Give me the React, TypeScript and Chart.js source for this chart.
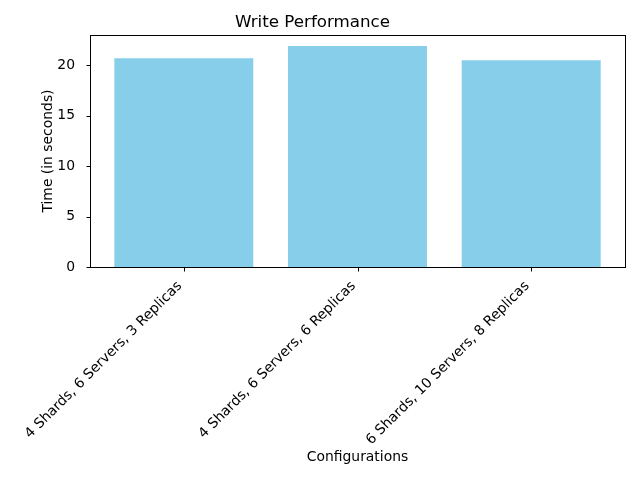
import React, { useEffect, useRef } from "react";
import { Chart, registerables } from "chart.js";

Chart.register(...registerables);

const categories = [
  "4 Shards, 6 Servers, 3 Replicas",
  "4 Shards, 6 Servers, 6 Replicas",
  "6 Shards, 10 Servers, 8 Replicas",
];
const writeTimes = [20.7, 21.9, 20.5];
const yTicks = [0, 5, 10, 15, 20];

const FONT = "'DejaVu Sans', sans-serif";

const framePlugin = {
  id: "frame",
  afterDraw(chart: any) {
    const { ctx, chartArea } = chart;
    const L = Math.round(chartArea.left) + 0.5;
    const T = Math.round(chartArea.top) + 0.5;
    const R = Math.round(chartArea.right) + 0.5;
    const B = Math.round(chartArea.bottom) + 0.5;
    ctx.save();
    ctx.strokeStyle = "#000";
    ctx.lineWidth = 1;
    ctx.strokeRect(L, T, R - L, B - T);
    ctx.beginPath();
    const ys = chart.scales.y;
    yTicks.forEach((v) => {
      const py = Math.round(ys.getPixelForValue(v)) + 0.5;
      ctx.moveTo(L, py);
      ctx.lineTo(L - 4, py);
    });
    const xs = chart.scales.x;
    categories.forEach((_, i) => {
      const px = Math.round(xs.getPixelForValue(i)) + 0.5;
      ctx.moveTo(px, B);
      ctx.lineTo(px, B + 4);
    });
    ctx.stroke();
    ctx.restore();
  },
};

export default function App() {
  const ref = useRef<HTMLCanvasElement | null>(null);

  useEffect(() => {
    document.body.style.margin = "0";
    const n = categories.length;
    const lo = -0.4;
    const hi = n - 1 + 0.4;
    const span = hi - lo;
    const xMin = lo - 0.05 * span;
    const xMax = hi + 0.05 * span;
    const yMax = Math.max(...writeTimes) * 1.05;

    const chart = new Chart(ref.current as HTMLCanvasElement, {
      type: "bar",
      data: {
        datasets: [
          {
            data: writeTimes.map((v, i) => ({ x: i, y: v })),
            backgroundColor: "#87CEEB",
            borderWidth: 0,
            barPercentage: 0.8,
            categoryPercentage: 1.0,
          },
        ],
      },
      options: {
        animation: false,
        responsive: false,
        layout: { padding: { left: 0, right: 15, top: 0, bottom: 0 } },
        plugins: {
          legend: { display: false },
          tooltip: { enabled: false },
          title: {
            display: true,
            text: "Write Performance",
            color: "#000",
            font: { family: FONT, size: 16.7, weight: "normal" },
            padding: { top: 13, bottom: 2 },
          },
        },
        scales: {
          x: {
            type: "linear",
            min: xMin,
            max: xMax,
            offset: false,
            grid: { display: false },
            border: { display: false },
            ticks: {
              color: "#000",
              font: { family: FONT, size: 13.9 },
              minRotation: 45,
              maxRotation: 45,
              autoSkip: false,
              padding: 3,
              labelOffset: -4,
              callback: (v: any) => categories[Math.round(Number(v))] ?? "",
            },
            afterBuildTicks: (scale: any) => {
              scale.ticks = categories.map((_, i) => ({ value: i }));
            },
            afterFit: (scale: any) => {
              scale.height = 213;
              scale.paddingLeft = 0;
              scale.paddingRight = 0;
            },
            title: {
              display: true,
              text: "Configurations",
              color: "#000",
              font: { family: FONT, size: 13.9 },
              padding: { top: 0, bottom: 14 },
            },
          },
          y: {
            min: 0,
            max: yMax,
            grid: { display: false },
            border: { display: false },
            ticks: {
              color: "#000",
              font: { family: FONT, size: 13.9 },
              padding: 7,
            },
            afterBuildTicks: (scale: any) => {
              scale.ticks = yTicks.map((v) => ({ value: v }));
            },
            afterFit: (scale: any) => {
              scale.width = 90;
              scale.paddingTop = 0;
              scale.paddingBottom = 0;
            },
            title: {
              display: true,
              text: "Time (in seconds)",
              color: "#000",
              font: { family: FONT, size: 13.9 },
              padding: { top: 40, bottom: 0 },
            },
          },
        },
      },
      plugins: [framePlugin],
    } as any);
    return () => chart.destroy();
  }, []);

  return (
    <div style={{ width: 640, height: 480 }}>
      <canvas ref={ref} width={640} height={480} />
    </div>
  );
}
